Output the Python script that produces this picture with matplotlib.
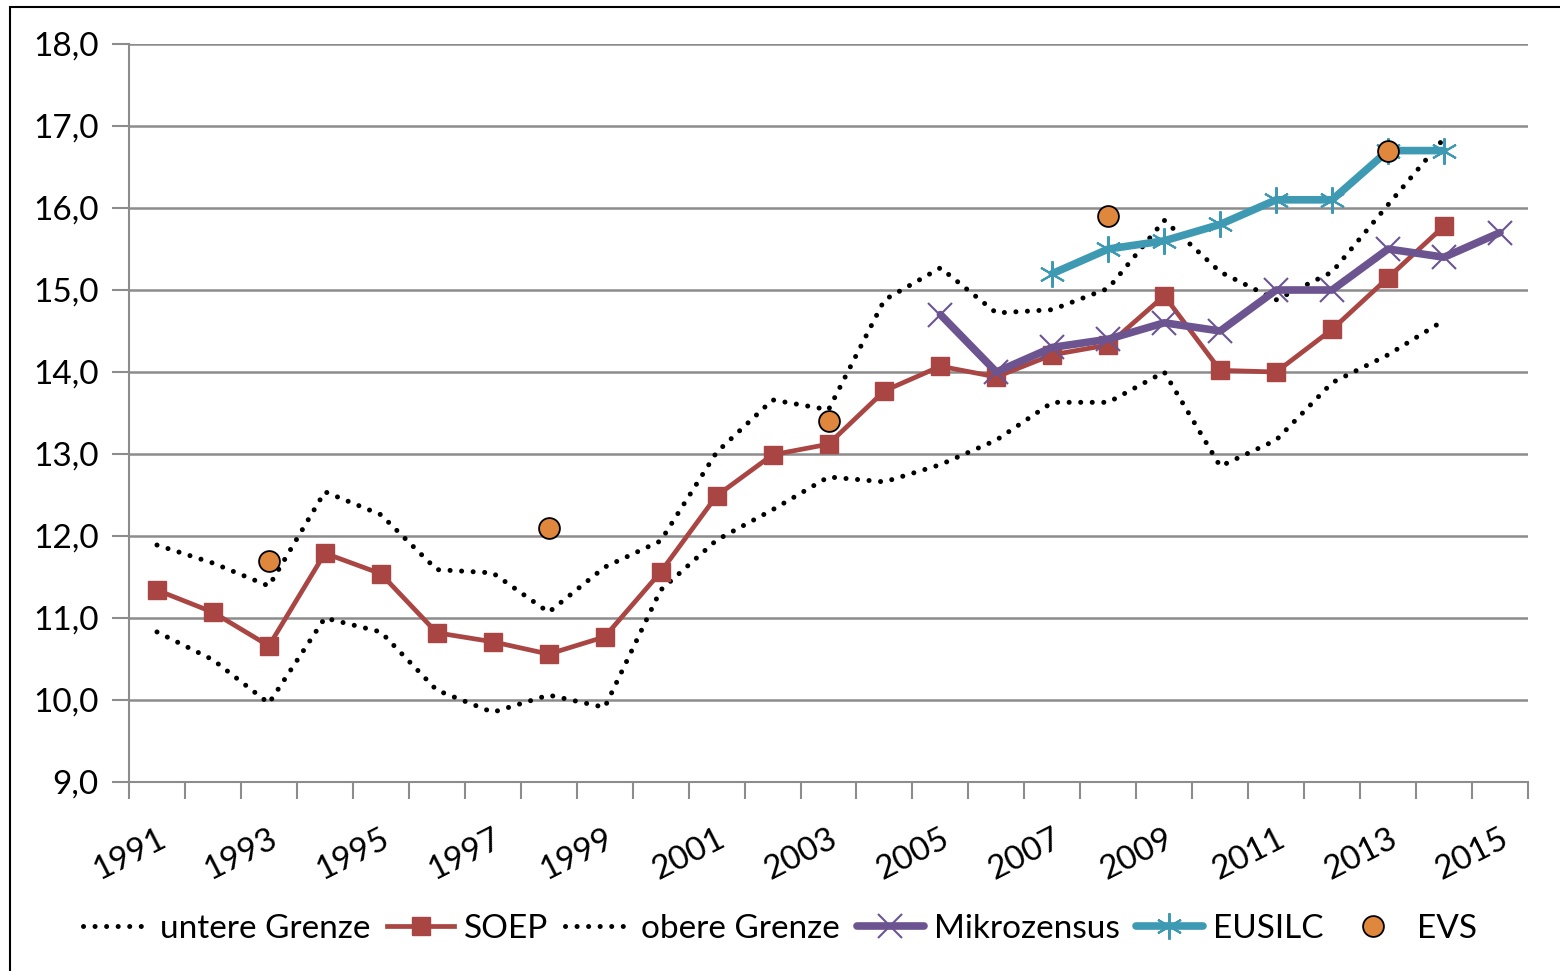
import numpy as np
import matplotlib.pyplot as plt
from matplotlib.patches import Rectangle

plt.rcParams['font.family'] = ['Lato', 'DejaVu Sans']

years = list(range(1991, 2016))
nan = np.nan

untere = [10.83, 10.49, 9.96, 11.0, 10.83, 10.12, 9.85, 10.06, 9.91, 11.34, 11.95, 12.32,
          12.72, 12.66, 12.87, 13.17, 13.63, 13.63, 14.0, 12.85, 13.17, 13.87, 14.21, 14.63, nan]
soep = [11.34, 11.07, 10.66, 11.79, 11.54, 10.82, 10.71, 10.56, 10.77, 11.56, 12.49, 12.99,
        13.12, 13.77, 14.07, 13.94, 14.21, 14.33, 14.93, 14.02, 14.0, 14.52, 15.15, 15.78, nan]
obere = [11.89, 11.67, 11.39, 12.54, 12.26, 11.59, 11.55, 11.07, 11.62, 11.94, 13.02, 13.66,
         13.54, 14.88, 15.27, 14.72, 14.76, 15.02, 15.85, 15.22, 14.88, 15.22, 16.04, 16.85, nan]
mikro = [nan] * 14 + [14.7, 14.0, 14.3, 14.4, 14.6, 14.5, 15.0, 15.0, 15.5, 15.4, 15.7]
eusilc = [nan] * 16 + [15.2, 15.5, 15.6, 15.8, 16.1, 16.1, 16.7, 16.7, nan]
evs = [nan, nan, 11.7, nan, nan, nan, nan, 12.1, nan, nan, nan, nan, 13.4, nan, nan, nan,
       nan, 15.9, nan, nan, nan, nan, 16.7, nan, nan]

red = '#A94543'
purple = '#6B5490'
teal = '#3E99B2'
orange = '#DF873D'
grid_c = '#8C8C8C'

fig = plt.figure(figsize=(15.6, 9.71), dpi=100)
ax = fig.add_axes([129 / 1560, 1 - 782 / 971, 1399 / 1560, 738 / 971])

x = np.arange(len(years))
dot = dict(color='black', lw=3.6, linestyle=(0, (0.01, 2.3)), dash_capstyle='round')

ax.plot(x, untere, label='untere Grenze', **dot)
ax.plot(x, soep, color=red, lw=3.4, marker='s', ms=13, label='SOEP')
ax.plot(x, obere, label='obere Grenze', **dot)
ax.plot(x, mikro, color=purple, lw=5.5, marker='x', ms=17, mew=1.5, label='Mikrozensus',
        solid_capstyle='round')
ax.plot(x, eusilc, color=teal, lw=5.5, marker=(6, 2, 0), ms=19, mew=1.5, label='EUSILC',
        solid_capstyle='round')
ax.plot(x, evs, linestyle='none', marker='o', mfc=orange, mec='black', mew=1.3, ms=15,
        label='EVS')

ax.set_xlim(-0.5, len(years) - 0.5)
ax.set_ylim(9, 18)
ax.set_yticks(np.arange(9, 18.5, 1))
ax.set_yticklabels([f'{v:.1f}'.replace('.', ',') for v in np.arange(9, 18.5, 1)])
ax.set_xticks(x[::2])
ax.set_xticklabels([str(y) for y in years[::2]], rotation=27, ha='right',
                   rotation_mode='anchor')
ax.set_xticks(np.arange(-0.5, len(years), 1), minor=True)
ax.tick_params(axis='x', which='major', length=0, pad=30, labelsize=24)
ax.tick_params(axis='x', which='minor', length=12, width=1.5, color=grid_c)
ax.tick_params(axis='y', which='major', length=12, width=1.5, color=grid_c, pad=10,
               labelsize=24)

ax.grid(axis='y', color=grid_c, lw=1.8)
ax.set_axisbelow(True)
for s in ['top', 'right']:
    ax.spines[s].set_visible(False)
for s in ['left', 'bottom']:
    ax.spines[s].set_color(grid_c)
    ax.spines[s].set_linewidth(1.5)

ax.legend(loc='center', bbox_to_anchor=(0.5, 1 - 929 / 971), bbox_transform=fig.transFigure,
          ncol=6, frameon=False, fontsize=24, handlelength=2.0, handletextpad=0.3,
          columnspacing=0.5)

fig.patches.append(Rectangle((10 / 1560, -0.1), 1.2, 1 - 7 / 971 + 0.1,
                             transform=fig.transFigure, fill=False, ec='black', lw=1.5))

fig.savefig('out.png', dpi=100)
